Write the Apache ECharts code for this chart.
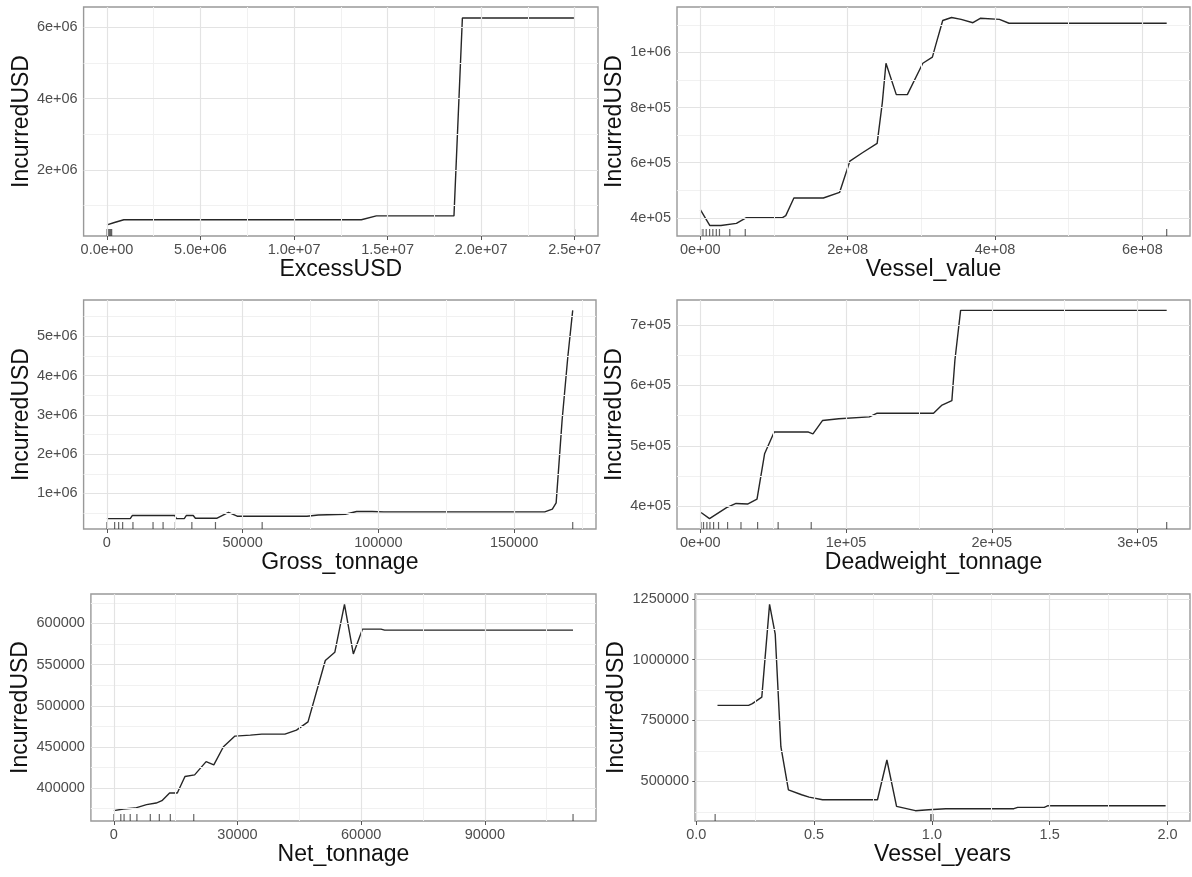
<!DOCTYPE html>
<html>
<head>
<meta charset="utf-8">
<script src="https://cdn.jsdelivr.net/npm/echarts@6/dist/echarts.min.js"></script>
<style>
html,body{margin:0;padding:0;background:#fff;}
#chart{width:1192px;height:877px;}
</style>
</head>
<body>
<div id="chart"></div>
<script>
// ---------------- DATA ----------------
const yTitle = 'IncurredUSD';

// Panel 1: ExcessUSD
const excessX = [0, 0.4e6, 0.9e6, 1.36e7, 1.44e7, 1.855e7, 1.9e7, 2.5e7];
const excessY = [0.45e6, 0.52e6, 0.595e6, 0.595e6, 0.705e6, 0.705e6, 6.26e6, 6.26e6];
const excessRug = [0, 50000, 100000, 150000, 200000, 250000, 25000000];
const excessXTicks = [0, 5e6, 1e7, 1.5e7, 2e7, 2.5e7];
const excessXLabels = ['0.0e+00', '5.0e+06', '1.0e+07', '1.5e+07', '2.0e+07', '2.5e+07'];
const excessYTicks = [2e6, 4e6, 6e6];
const excessYLabels = ['2e+06', '4e+06', '6e+06'];
const excessXMinor = [2.5e6, 7.5e6, 1.25e7, 1.75e7, 2.25e7];
const excessYMinor = [1e6, 3e6, 5e6];

// Panel 2: Vessel_value
const vesselValueX = [0, 0.13e8, 0.28e8, 0.49e8, 0.62e8, 1.11e8, 1.16e8, 1.27e8, 1.67e8, 1.89e8, 2.03e8, 2.2e8, 2.4e8, 2.47e8, 2.52e8, 2.66e8, 2.81e8, 3.02e8, 3.15e8, 3.19e8, 3.29e8, 3.41e8, 3.54e8, 3.70e8, 3.80e8, 4.06e8, 4.19e8, 6.33e8];
const vesselValueY = [4.3e5, 3.72e5, 3.72e5, 3.8e5, 4.0e5, 4.0e5, 4.08e5, 4.72e5, 4.72e5, 4.92e5, 6.06e5, 6.36e5, 6.7e5, 8.17e5, 9.61e5, 8.47e5, 8.47e5, 9.61e5, 9.83e5, 1.022e6, 1.116e6, 1.127e6, 1.12e6, 1.108e6, 1.124e6, 1.12e6, 1.106e6, 1.106e6];
const vesselValueRug = [0.4e6, 3.6e6, 8e6, 12.6e6, 17e6, 21.7e6, 26e6, 40e6, 61e6, 633e6];
const vesselValueXTicks = [0, 2e8, 4e8, 6e8];
const vesselValueXLabels = ['0e+00', '2e+08', '4e+08', '6e+08'];
const vesselValueYTicks = [4e5, 6e5, 8e5, 1e6];
const vesselValueYLabels = ['4e+05', '6e+05', '8e+05', '1e+06'];
const vesselValueXMinor = [1e8, 3e8, 5e8];
const vesselValueYMinor = [5e5, 7e5, 9e5, 1.1e6];

// Panel 3: Gross_tonnage
const grossX = [0, 8600, 9400, 25000, 25600, 28500, 29300, 31800, 32600, 40600, 44800, 48000, 73700, 77900, 87800, 92000, 97700, 102000, 161300, 164100, 165500, 167700, 169800, 171600];
const grossY = [0.36e6, 0.36e6, 0.44e6, 0.44e6, 0.36e6, 0.36e6, 0.44e6, 0.44e6, 0.37e6, 0.37e6, 0.52e6, 0.42e6, 0.42e6, 0.45e6, 0.47e6, 0.54e6, 0.54e6, 0.53e6, 0.53e6, 0.6e6, 0.76e6, 2.87e6, 4.48e6, 5.66e6];
const grossRug = [0, 2850, 4330, 5800, 9600, 17000, 20700, 25200, 31300, 40000, 57200, 171600];
const grossXTicks = [0, 50000, 100000, 150000];
const grossXLabels = ['0', '50000', '100000', '150000'];
const grossYTicks = [1e6, 2e6, 3e6, 4e6, 5e6];
const grossYLabels = ['1e+06', '2e+06', '3e+06', '4e+06', '5e+06'];
const grossXMinor = [25000, 75000, 125000, 175000];
const grossYMinor = [0.5e6, 1.5e6, 2.5e6, 3.5e6, 4.5e6, 5.5e6];

// Panel 4: Deadweight_tonnage
const deadweightX = [500, 6300, 18000, 24500, 32400, 38900, 44100, 50700, 61100, 74200, 77300, 83800, 95000, 116000, 121000, 160000, 165500, 172600, 174700, 178600, 320000];
const deadweightY = [3.9e5, 3.8e5, 3.98e5, 4.05e5, 4.04e5, 4.12e5, 4.87e5, 5.23e5, 5.23e5, 5.23e5, 5.2e5, 5.42e5, 5.45e5, 5.48e5, 5.54e5, 5.54e5, 5.67e5, 5.75e5, 6.42e5, 7.24e5, 7.24e5];
const deadweightRug = [500, 2200, 4500, 6600, 9100, 12500, 18700, 27900, 39300, 53400, 76100, 320000];
const deadweightXTicks = [0, 1e5, 2e5, 3e5];
const deadweightXLabels = ['0e+00', '1e+05', '2e+05', '3e+05'];
const deadweightYTicks = [4e5, 5e5, 6e5, 7e5];
const deadweightYLabels = ['4e+05', '5e+05', '6e+05', '7e+05'];
const deadweightXMinor = [5e4, 1.5e5, 2.5e5];
const deadweightYMinor = [4.5e5, 5.5e5, 6.5e5];

// Panel 5: Net_tonnage
const netX = [0, 2330, 5130, 7930, 10260, 11660, 13520, 15390, 17250, 19590, 22380, 24250, 26580, 29380, 33100, 35900, 41500, 44300, 47100, 51300, 53600, 55950, 58100, 60330, 64800, 65700, 111400];
const netY = [372600, 374600, 375800, 379900, 381900, 384700, 394000, 394000, 414100, 416100, 432200, 428200, 450300, 463200, 464400, 465600, 465600, 470400, 480500, 555000, 565000, 623300, 563000, 593200, 593200, 592000, 592000];
const netRug = [0, 1680, 2480, 3970, 5590, 8840, 11030, 13700, 19380, 111400];
const netXTicks = [0, 30000, 60000, 90000];
const netXLabels = ['0', '30000', '60000', '90000'];
const netYTicks = [400000, 450000, 500000, 550000, 600000];
const netYLabels = ['400000', '450000', '500000', '550000', '600000'];
const netXMinor = [15000, 45000, 75000, 105000];
const netYMinor = [375000, 425000, 475000, 525000, 575000, 625000];

// Panel 6: Vessel_years
const yearsX = [0.09, 0.222, 0.238, 0.278, 0.311, 0.335, 0.359, 0.391, 0.447, 0.479, 0.536, 0.769, 0.809, 0.850, 0.930, 0.986, 1.059, 1.348, 1.364, 1.477, 1.493, 1.992];
const yearsY = [812200, 812200, 819000, 846200, 1227300, 1104800, 642100, 465200, 444800, 435200, 424400, 424400, 587700, 397100, 379400, 383500, 387600, 387600, 393000, 393000, 399900, 399900];
const yearsRug = [0.08, 0.995, 1.0, 1.005];
const yearsXTicks = [0, 0.5, 1.0, 1.5, 2.0];
const yearsXLabels = ['0.0', '0.5', '1.0', '1.5', '2.0'];
const yearsYTicks = [500000, 750000, 1000000, 1250000];
const yearsYLabels = ['500000', '750000', '1000000', '1250000'];
const yearsXMinor = [0.25, 0.75, 1.25, 1.75];
const yearsYMinor = [375000, 625000, 875000, 1125000];

// ---------------- LAYOUT / CONFIG ----------------
const panels = [
  {title:'ExcessUSD', x:excessX, y:excessY, rug:excessRug, xT:excessXTicks, xL:excessXLabels, yT:excessYTicks, yL:excessYLabels, xM:excessXMinor, yM:excessYMinor,
   xExt:[-1.25e6, 2.625e7], yExt:[0.14e6, 6.57e6], box:[83.6, 7, 598, 236], yGap:48},
  {title:'Vessel_value', x:vesselValueX, y:vesselValueY, rug:vesselValueRug, xT:vesselValueXTicks, xL:vesselValueXLabels, yT:vesselValueYTicks, yL:vesselValueYLabels, xM:vesselValueXMinor, yM:vesselValueYMinor,
   xExt:[-0.3165e8, 6.6465e8], yExt:[3.34e5, 1.165e6], box:[677, 7, 1190, 236], yGap:46},
  {title:'Gross_tonnage', x:grossX, y:grossY, rug:grossRug, xT:grossXTicks, xL:grossXLabels, yT:grossYTicks, yL:grossYLabels, xM:grossXMinor, yM:grossYMinor,
   xExt:[-8580, 180180], yExt:[0.095e6, 5.925e6], box:[83.6, 300, 596, 529], yGap:48},
  {title:'Deadweight_tonnage', x:deadweightX, y:deadweightY, rug:deadweightRug, xT:deadweightXTicks, xL:deadweightXLabels, yT:deadweightYTicks, yL:deadweightYLabels, xM:deadweightXMinor, yM:deadweightYMinor,
   xExt:[-16000, 336000], yExt:[3.628e5, 7.412e5], box:[677, 300, 1190, 529], yGap:46},
  {title:'Net_tonnage', x:netX, y:netY, rug:netRug, xT:netXTicks, xL:netXLabels, yT:netYTicks, yL:netYLabels, xM:netXMinor, yM:netYMinor,
   xExt:[-5570, 116970], yExt:[360065, 635835], box:[90.9, 594, 596, 821], yGap:55},
  {title:'Vessel_years', x:yearsX, y:yearsY, rug:yearsRug, xT:yearsXTicks, xL:yearsXLabels, yT:yearsYTicks, yL:yearsYLabels, xM:yearsXMinor, yM:yearsYMinor,
   xExt:[-0.0055, 2.0955], yExt:[337000, 1269700], box:[695, 594, 1190, 821], yGap:65}
];

const FONT = "'Liberation Sans', Arial, Helvetica, sans-serif";
const MAJOR = '#e3e3e3';
const MINOR = '#f1f1f1';

function lookup(ticks, labels) {
  return function (v) {
    let best = 0, bd = Infinity;
    for (let i = 0; i < ticks.length; i++) {
      const d = Math.abs(ticks[i] - v);
      if (d < bd) { bd = d; best = i; }
    }
    return labels[best];
  };
}

const grids = [], xAxes = [], yAxes = [], series = [];
panels.forEach((p, i) => {
  const [l, t, r, b] = p.box;
  grids.push({left: l, top: t, width: r - l, height: b - t, show: true, backgroundColor: '#fff',
    borderColor: '#999999', borderWidth: 1.4, containLabel: false, outerBoundsMode: 'none'});
  xAxes.push({
    type: 'value', gridIndex: i, min: p.xExt[0], max: p.xExt[1],
    axisLine: {show: false}, splitLine: {show: false}, minorSplitLine: {show: false},
    axisTick: {show: true, length: 4, lineStyle: {color: '#555', width: 1}, customValues: p.xT},
    axisLabel: {customValues: p.xT, formatter: lookup(p.xT, p.xL), margin: 6, fontSize: 14.5, color: '#4d4d4d', fontFamily: FONT},
    name: p.title, nameLocation: 'middle', nameGap: 20,
    nameTextStyle: {fontSize: 23, color: '#111', fontFamily: FONT, verticalAlign: 'top'}
  });
  yAxes.push({
    type: 'value', gridIndex: i, min: p.yExt[0], max: p.yExt[1],
    axisLine: {show: false}, splitLine: {show: false}, minorSplitLine: {show: false},
    axisTick: {show: true, length: 4, lineStyle: {color: '#555', width: 1}, customValues: p.yT},
    axisLabel: {customValues: p.yT, formatter: lookup(p.yT, p.yL), margin: 6, fontSize: 14.5, color: '#4d4d4d', fontFamily: FONT},
    name: yTitle, nameLocation: 'middle', nameGap: p.yGap, nameRotate: 90,
    nameTextStyle: {fontSize: 23, color: '#111', fontFamily: FONT}
  });
  // grid lines (minor then major) drawn through the axes' scales
  const gl = [];
  p.xM.forEach(v => gl.push({xAxis: v, lineStyle: {color: MINOR, width: 1, type: 'solid'}}));
  p.yM.forEach(v => gl.push({yAxis: v, lineStyle: {color: MINOR, width: 1, type: 'solid'}}));
  p.xT.forEach(v => gl.push({xAxis: v, lineStyle: {color: MAJOR, width: 1.2, type: 'solid'}}));
  p.yT.forEach(v => gl.push({yAxis: v, lineStyle: {color: MAJOR, width: 1.2, type: 'solid'}}));
  series.push({
    type: 'line', xAxisIndex: i, yAxisIndex: i, data: [], z: 1, silent: true,
    markLine: {silent: true, symbol: ['none', 'none'], label: {show: false}, animation: false,
      emphasis: {disabled: true}, lineStyle: {type: 'solid'}, data: gl}
  });
  // main line
  series.push({
    type: 'line', xAxisIndex: i, yAxisIndex: i, z: 3, symbol: 'none', silent: true,
    data: p.x.map((v, k) => [v, p.y[k]]),
    lineStyle: {color: '#262626', width: 1.4}
  });
  // rug
  series.push({
    type: 'scatter', xAxisIndex: i, yAxisIndex: i, z: 4, silent: true,
    symbol: 'rect', symbolSize: [1.2, 7], symbolOffset: [0, -3.5],
    itemStyle: {color: '#333', opacity: 0.75},
    data: p.rug.map(v => [v, p.yExt[0]])
  });
});

const chart = echarts.init(document.getElementById('chart'), null, {renderer: 'canvas'});
chart.setOption({
  animation: false,
  backgroundColor: '#fff',
  textStyle: {fontFamily: FONT},
  grid: grids,
  xAxis: xAxes,
  yAxis: yAxes,
  series: series
});
</script>
</body>
</html>
